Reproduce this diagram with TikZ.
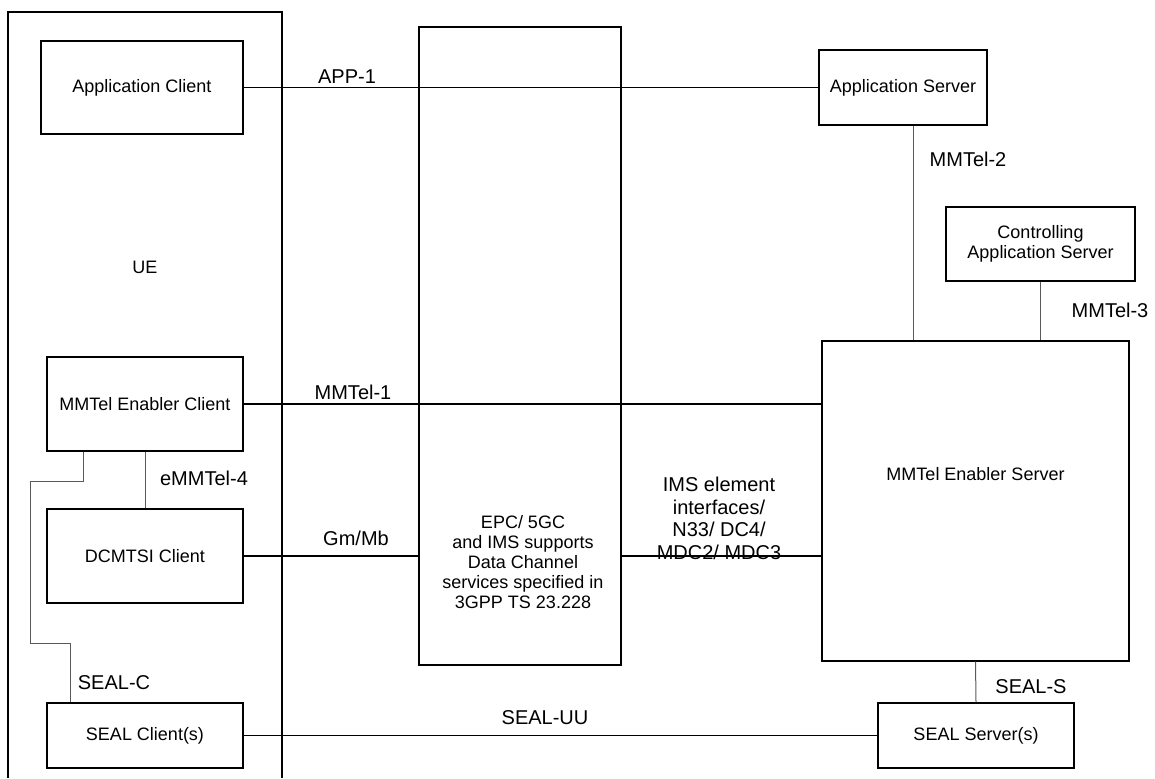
\documentclass[tikz,border=0pt]{standalone}
\usepackage{fontspec}
\setmainfont{Liberation Sans}
\usepackage{tikz}
\usetikzlibrary{calc}

\begin{document}
\begin{tikzpicture}[x=0.5pt, y=-0.5pt,
    box/.style={draw, line width=0.7pt, inner sep=0pt, align=center, font=\fontsize{9}{10}\selectfont},
    txt/.style={inner sep=0pt, align=center, font=\fontsize{9}{10}\selectfont},
    link/.style={line width=0.65pt},
    iface/.style={line width=0.5pt, black!65},
    lbl/.style={inner sep=0pt, align=center, font=\fontsize{10}{11.3}\selectfont}]
    \useasboundingbox (0,0) rectangle (1155,778);
    % UE frame (open at the bottom)
    \draw[line width=0.7pt] (8,778) -- (8,12) -- (282,12) -- (282,778);
    \node[txt] (ue) at (145,267) {UE};
    % UE side
    \node[box, minimum width=101pt, minimum height=46.5pt] (appClient) at (142,87.5) {Application Client};
    \node[box, minimum width=98pt, minimum height=47pt] (mmtelClient) at (145,404) {MMTel Enabler Client};
    \node[box, minimum width=98pt, minimum height=47pt] (dcmtsiClient) at (145,556) {DCMTSI Client};
    \node[box, minimum width=98pt, minimum height=32.5pt] (sealClient) at (145,735.5) {SEAL Client(s)};
    % core network
    \node[box, minimum width=101pt, minimum height=319pt] (core) at (520,346) {};
    \node[txt] (coreText) at (523,562) {EPC/ 5GC\\and IMS supports\\Data Channel\\services specified in\\3GPP TS 23.228};
    % server side
    \node[box, minimum width=84pt, minimum height=37.5pt] (appServer) at (903,87.5) {Application Server};
    \node[box, minimum width=94.5pt, minimum height=37pt] (ctrlServer) at (1040.5,244) {Controlling\\Application Server};
    \node[box, minimum width=153.5pt, minimum height=160pt] (mmtelServer) at (975.5,501) {};
    \node[txt] (mmtelServerText) at (975.5,474) {MMTel Enabler Server};
    \node[box, minimum width=98pt, minimum height=32.5pt] (sealServer) at (976,735.5) {SEAL Server(s)};
    % horizontal reference points
    \draw[link] (appClient.east) -- (appServer.west);
    \draw[link] (mmtelClient.east) -- (mmtelClient.east -| mmtelServer.west);
    \draw[link] (dcmtsiClient.east) -- (dcmtsiClient.east -| core.west);
    \draw[link] (dcmtsiClient.east -| core.east) -- (dcmtsiClient.east -| mmtelServer.west);
    \draw[link] (sealClient.east) -- (sealServer.west);
    % vertical reference points
    \draw[iface] ([xshift=5pt]appServer.south) -- ([xshift=5pt]appServer.south |- mmtelServer.north);
    \draw[iface] (ctrlServer.south) -- (ctrlServer.south |- mmtelServer.north);
    \draw[iface] (mmtelServer.south) -- (sealServer.north);
    \draw[iface] (mmtelClient.south) -- (dcmtsiClient.north);
    \draw[iface] ([xshift=-31pt]mmtelClient.south) -- ++(0,30) -| (30,643) -| ([xshift=-37.5pt]sealClient.north);
    % labels
    \node[lbl] (app1) at (347,77) {APP-1};
    \node[lbl] (mmtel1) at (353,392) {MMTel-1};
    \node[lbl] (gmmb) at (356,538) {Gm/Mb};
    \node[lbl] (imsIf) at (719,518.5) {IMS element\\interfaces/\\N33/ DC4/\\MDC2/ MDC3};
    \node[lbl] (mmtel2) at (968,159) {MMTel-2};
    \node[lbl] (mmtel3) at (1110,310) {MMTel-3};
    \node[lbl] (emmtel4) at (204,478) {eMMTel-4};
    \node[lbl] (sealC) at (114,683) {SEAL-C};
    \node[lbl] (sealS) at (1031,687) {SEAL-S};
    \node[lbl] (sealUU) at (545,718) {SEAL-UU};
\end{tikzpicture}
\end{document}
